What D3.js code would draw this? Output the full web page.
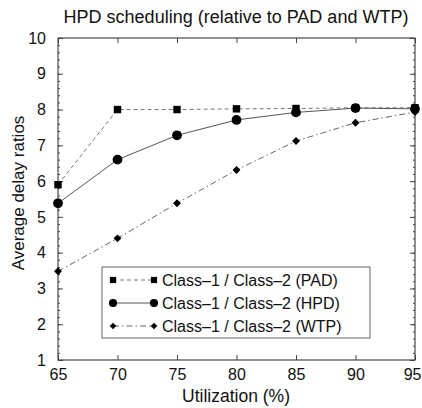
<!DOCTYPE html>
<html><head><meta charset="utf-8">
<script src="https://cdn.jsdelivr.net/npm/d3@7"></script>
<style>body{margin:0;background:#fff}text{font-family:"Liberation Sans",Arial,sans-serif;fill:#111}</style>
</head><body><svg id="c" width="422" height="408"></svg>
<script>
const utilization = [65, 70, 75, 80, 85, 90, 95];
const padValues = [5.9, 8.0, 8.0, 8.02, 8.03, 8.05, 8.05];
const hpdValues = [5.38, 6.6, 7.28, 7.71, 7.92, 8.04, 8.02];
const wtpValues = [3.48, 4.4, 5.38, 6.31, 7.12, 7.63, 7.93];
const xTicks = [65, 70, 75, 80, 85, 90, 95];
const yTicks = [1, 2, 3, 4, 5, 6, 7, 8, 9, 10];
const seriesNames = ["Class\u20131 / Class\u20132 (PAD)", "Class\u20131 / Class\u20132 (HPD)", "Class\u20131 / Class\u20132 (WTP)"];

const svg = d3.select("#c");
const L = 58, R = 415, T = 38, B = 360;
const x = d3.scaleLinear().domain([65, 95]).range([L, R]);
const y = d3.scaleLinear().domain([1, 10]).range([B, T]);
const yMinor = d3.range(1, 10.01, 0.2);

// frame
svg.append("rect").attr("x", L).attr("y", T).attr("width", R - L).attr("height", B - T)
  .attr("fill", "none").attr("stroke", "#222").attr("stroke-width", 1);

// minor ticks
svg.append("g").attr("transform", `translate(${L},0)`)
  .call(d3.axisLeft(y).tickValues(yMinor).tickSize(-2).tickFormat(""));
svg.append("g").attr("transform", `translate(${R},0)`)
  .call(d3.axisRight(y).tickValues(yMinor).tickSize(-2).tickFormat(""));

// axes
const gx = svg.append("g").attr("transform", `translate(0,${B})`)
  .call(d3.axisBottom(x).tickValues(xTicks).tickSize(-5).tickPadding(9));
svg.append("g").attr("transform", `translate(${L},0)`)
  .call(d3.axisLeft(y).tickValues(yTicks).tickSize(-5).tickPadding(12));
svg.append("g").attr("transform", `translate(0,${T})`)
  .call(d3.axisTop(x).tickValues(xTicks).tickSize(-5).tickFormat(""));
svg.append("g").attr("transform", `translate(${R},0)`)
  .call(d3.axisRight(y).tickValues(yTicks).tickSize(-5).tickFormat(""));
svg.selectAll(".domain").remove();
svg.selectAll(".tick line").attr("stroke", "#444");
svg.selectAll(".tick text").style("font-size", "16px").attr("fill", "#111");
gx.selectAll(".tick text").filter(d => d === 95).attr("text-anchor", "end").attr("dx", "6");

// titles
svg.append("text").attr("x", 236).attr("y", 23).attr("text-anchor", "middle")
  .style("font-size", "18px").text("HPD scheduling (relative to PAD and WTP)");
svg.append("text").attr("x", 236).attr("y", 402).attr("text-anchor", "middle")
  .style("font-size", "17.5px").text("Utilization (%)");
svg.append("text").attr("transform", "translate(24,193) rotate(-90)").attr("text-anchor", "middle")
  .style("font-size", "17px").text("Average delay ratios");

const series = [
  {vals: padValues, dash: "4,3", sym: d3.symbolSquare, size: 55, color: "#777"},
  {vals: hpdValues, dash: null, sym: d3.symbolCircle, size: 75, color: "#555"},
  {vals: wtpValues, dash: "6,3,1.5,3", sym: d3.symbolDiamond2, size: 40, color: "#666"}
];
const line = d3.line().x((d, i) => x(utilization[i])).y(d => y(d));
series.forEach(s => {
  svg.append("path").datum(s.vals).attr("d", line).attr("fill", "none")
    .attr("stroke", s.color).attr("stroke-width", 1).attr("stroke-dasharray", s.dash);
  svg.selectAll(null).data(s.vals).enter().append("path")
    .attr("transform", (d, i) => `translate(${x(utilization[i])},${y(d)})`)
    .attr("d", d3.symbol().type(s.sym).size(s.size)).attr("fill", "#000");
});

// legend
const lg = svg.append("g");
lg.append("rect").attr("x", 102).attr("y", 267).attr("width", 268).attr("height", 71)
  .attr("fill", "#fff").attr("stroke", "#666");
const rowsY = [280, 303, 326];
series.forEach((s, i) => {
  lg.append("line").attr("x1", 113).attr("x2", 154).attr("y1", rowsY[i]).attr("y2", rowsY[i])
    .attr("stroke", s.color).attr("stroke-dasharray", s.dash);
  [113, 154].forEach(px => lg.append("path").attr("transform", `translate(${px},${rowsY[i]})`)
    .attr("d", d3.symbol().type(s.sym).size(s.size * 0.7)).attr("fill", "#000"));
  lg.append("text").attr("x", 162).attr("y", rowsY[i] + 6).style("font-size", "16px").text(seriesNames[i]);
});
</script></body></html>
